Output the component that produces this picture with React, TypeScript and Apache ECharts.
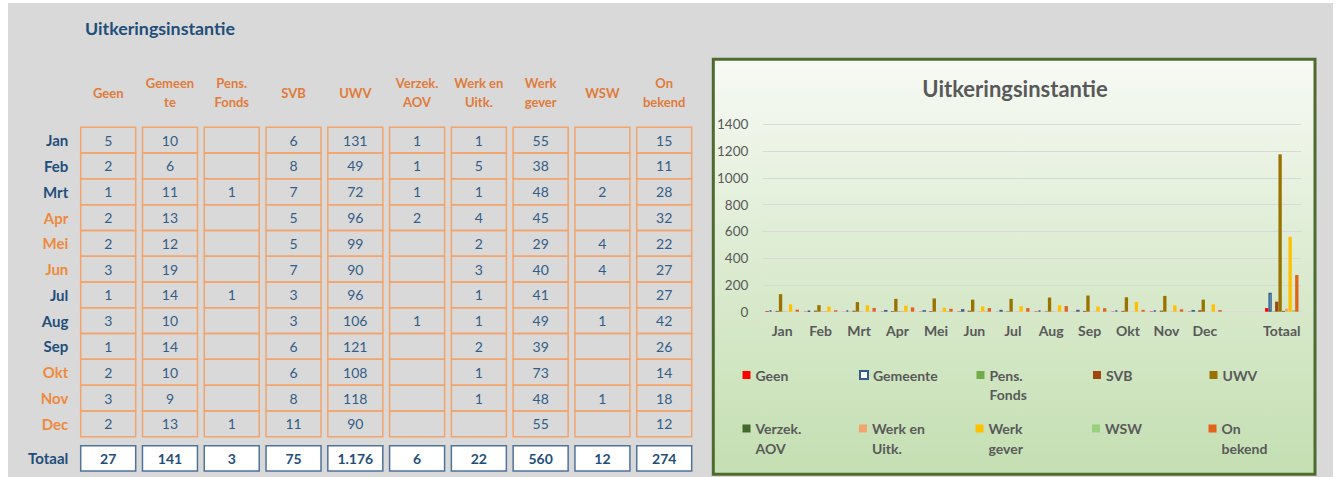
import React, { useEffect, useRef } from 'react';
import * as echarts from 'echarts';

const months = ['Jan', 'Feb', 'Mrt', 'Apr', 'Mei', 'Jun', 'Jul', 'Aug', 'Sep', 'Okt', 'Nov', 'Dec'];
const chartCategories = [...months, '', 'Totaal'];
const seriesNames = ['Geen', 'Gemeente', 'Pens. Fonds', 'SVB', 'UWV', 'Verzek. AOV', 'Werk en Uitk.', 'Werk gever', 'WSW', 'On bekend'];
const headerLabels = ['Geen', 'Gemeen\nte', 'Pens.\nFonds', 'SVB', 'UWV', 'Verzek.\nAOV', 'Werk en\nUitk.', 'Werk\ngever', 'WSW', 'On\nbekend'];
const legendLabels = ['Geen', 'Gemeente', 'Pens.\nFonds', 'SVB', 'UWV', 'Verzek.\nAOV', 'Werk en\nUitk.', 'Werk\ngever', 'WSW', 'On\nbekend'];

const geen = [5, 2, 1, 2, 2, 3, 1, 3, 1, 2, 3, 2];
const gemeente = [10, 6, 11, 13, 12, 19, 14, 10, 14, 10, 9, 13];
const pensFonds = [null, null, 1, null, null, null, 1, null, null, null, null, 1];
const svb = [6, 8, 7, 5, 5, 7, 3, 3, 6, 6, 8, 11];
const uwv = [131, 49, 72, 96, 99, 90, 96, 106, 121, 108, 118, 90];
const verzekAov = [1, 1, 1, 2, null, null, null, 1, null, null, null, null];
const werkEnUitk = [1, 5, 1, 4, 2, 3, 1, 1, 2, 1, 1, null];
const werkgever = [55, 38, 48, 45, 29, 40, 41, 49, 39, 73, 48, 55];
const wsw = [null, null, 2, null, 4, 4, null, 1, null, null, 1, null];
const onbekend = [15, 11, 28, 32, 22, 27, 27, 42, 26, 14, 18, 12];
const totals = [27, 141, 3, 75, 1176, 6, 22, 560, 12, 274];

const monthlyData: (number | null)[][] = [geen, gemeente, pensFonds, svb, uwv, verzekAov, werkEnUitk, werkgever, wsw, onbekend];

const seriesColors = ['#ff0000', '#ffffff', '#70ad47', '#9e480e', '#997300', '#43682b', '#f4a46c', '#ffc000', '#9bd07a', '#e0651a'];

const FONT = 'Lato, "Open Sans", sans-serif';
const BLUE = '#1f4e79';
const ORANGE = '#ee8a3c';

function fmtNl(v: number): string {
  const s = String(v);
  return s.replace(/\B(?=(\d{3})+(?!\d))/g, '.');
}

export default function App() {
  const ref = useRef<HTMLDivElement>(null);
  useEffect(() => {
    document.body.style.margin = '0';
    document.body.style.overflow = 'hidden';
    if (!ref.current) return;
    const chart = echarts.init(ref.current, undefined, { renderer: 'svg' });

    const cellData: number[][] = [];
    const cellLabels: string[] = [];
    for (let r = 0; r < months.length; r++) {
      for (let c = 0; c < monthlyData.length; c++) {
        cellData.push([c, r]);
        const v = monthlyData[c][r];
        cellLabels.push(v == null ? '' : String(v));
      }
    }
    const totalData: number[][] = totals.map((_, c) => [c, 0]);
    const totalLabels = totals.map((v) => fmtNl(v));

    const makeCellRenderer = (labels: string[], fill: string, stroke: string, textColor: string, bold: boolean) =>
      (params: any, api: any) => {
        const c = api.value(0);
        const r = api.value(1);
        const p = api.coord([c, r]);
        const sz = api.size([1, 1]);
        const bw = Math.abs(sz[0]);
        const bh = Math.abs(sz[1]);
        const w = bw * 0.89;
        return {
          type: 'group',
          children: [
            {
              type: 'rect',
              shape: { x: p[0] - w / 2, y: p[1] - bh / 2, width: w, height: bh },
              style: { fill, stroke, lineWidth: 1.5 },
            },
            {
              type: 'text',
              style: {
                text: labels[params.dataIndex],
                x: p[0],
                y: p[1],
                align: 'center',
                verticalAlign: 'middle',
                fill: textColor,
                fontSize: 14,
                fontFamily: FONT,
                fontWeight: bold ? 'bold' : 'normal',
              },
            },
          ],
        };
      };

    const legendText = {
      color: '#595959',
      fontWeight: 'bold',
      fontSize: 14,
      fontFamily: FONT,
      lineHeight: 19.5,
      width: 93.5,
    };
    const legendFormatter = (name: string) => {
      const idx = seriesNames.indexOf(name);
      const lbl = legendLabels[idx];
      return lbl.indexOf('\n') >= 0 ? ' \n' + lbl : ' \n' + lbl + '\n ';
    };

    const option: any = {
      animation: false,
      graphic: [
        { type: 'rect', z: -20, silent: true, shape: { x: 8, y: 3, width: 1325, height: 474 }, style: { fill: '#d9d9d9' } },
        {
          type: 'rect',
          z: -10,
          silent: true,
          shape: { x: 713.3, y: 59.3, width: 601.7, height: 415 },
          style: {
            fill: {
              type: 'linear', x: 0, y: 0, x2: 0, y2: 1,
              colorStops: [
                { offset: 0, color: '#f7faf5' },
                { offset: 0.5, color: '#dcebd0' },
                { offset: 1, color: '#c4dfb2' },
              ],
            },
            stroke: '#4d6b2e',
            lineWidth: 3,
          },
        },
        {
          type: 'text', z: 10, silent: true, x: 85, y: 27.7,
          style: { text: 'Uitkeringsinstantie', align: 'left', verticalAlign: 'middle', fill: BLUE, fontSize: 17.8, fontWeight: 'bold', fontFamily: FONT },
        },
        {
          type: 'text', z: 10, silent: true, x: 1015, y: 88.3,
          style: { text: 'Uitkeringsinstantie', align: 'center', verticalAlign: 'middle', fill: '#595959', fontSize: 22, fontWeight: 'bold', fontFamily: FONT },
        },
      ],
      grid: [
        { left: 77.3, width: 617.8, top: 127.3, height: 309.4 },
        { left: 77.3, width: 617.8, top: 445.7, height: 25.3 },
        { left: 763, right: 37, top: 124.3, bottom: 165.3 },
      ],
      xAxis: [
        {
          gridIndex: 0, type: 'category', data: headerLabels, position: 'top',
          axisLine: { show: false }, axisTick: { show: false }, splitLine: { show: false },
          axisLabel: { interval: 0, color: '#e07b39', fontWeight: 'bold', fontSize: 13, fontFamily: FONT, lineHeight: 18.4, verticalAlign: 'middle', margin: 34.7 },
        },
        { gridIndex: 1, type: 'category', data: seriesNames, show: false },
        {
          gridIndex: 2, type: 'category', data: chartCategories,
          axisLine: { lineStyle: { color: '#d9d9d9' } }, axisTick: { show: false },
          axisLabel: { interval: 0, color: '#595959', fontWeight: 'bold', fontSize: 14, fontFamily: FONT, margin: 12 },
        },
      ],
      yAxis: [
        {
          gridIndex: 0, type: 'category', data: months, inverse: true,
          axisLine: { show: false }, axisTick: { show: false }, splitLine: { show: false },
          axisLabel: {
            color: (_v: any, i: number) => (Math.floor(i / 3) % 2 === 0 ? BLUE : ORANGE),
            fontWeight: 'bold', fontSize: 15, fontFamily: FONT, margin: 9,
          },
        },
        {
          gridIndex: 1, type: 'category', data: ['Totaal'],
          axisLine: { show: false }, axisTick: { show: false }, splitLine: { show: false },
          axisLabel: { color: BLUE, fontWeight: 'bold', fontSize: 15, fontFamily: FONT, margin: 9 },
        },
        {
          gridIndex: 2, type: 'value', min: 0, max: 1400, interval: 200,
          axisLine: { show: false }, axisTick: { show: false },
          splitLine: { lineStyle: { color: '#d9d9d9', width: 1 } },
          axisLabel: { color: '#595959', fontSize: 13.5, fontFamily: FONT, margin: 14.7, formatter: (v: number) => String(v) },
        },
      ],
      legend: [
        {
          data: seriesNames.slice(0, 5), left: 742.5, top: 345.75, padding: 0,
          orient: 'horizontal', icon: 'rect', itemWidth: 8, itemHeight: 8, itemGap: 10,
          selectedMode: false, textStyle: legendText, formatter: legendFormatter,
        },
        {
          data: seriesNames.slice(5), left: 742.5, top: 399.25, padding: 0,
          orient: 'horizontal', icon: 'rect', itemWidth: 8, itemHeight: 8, itemGap: 10,
          selectedMode: false, textStyle: legendText, formatter: legendFormatter,
        },
      ],
      series: [
        {
          type: 'custom', name: 'table', xAxisIndex: 0, yAxisIndex: 0, silent: true,
          data: cellData, encode: { x: 0, y: 1 },
          renderItem: makeCellRenderer(cellLabels, 'none', '#f2a46c', '#335d87', false),
        },
        {
          type: 'custom', name: 'tableTotals', xAxisIndex: 1, yAxisIndex: 1, silent: true,
          data: totalData, encode: { x: 0, y: 1 },
          renderItem: makeCellRenderer(totalLabels, '#ffffff', '#4f7399', BLUE, true),
        },
        ...seriesNames.map((name, i) => ({
          type: 'bar',
          name,
          xAxisIndex: 2,
          yAxisIndex: 2,
          data: [...monthlyData[i], null, totals[i]],
          barGap: '0%',
          barCategoryGap: '13%',
          itemStyle: i === 1
            ? { color: '#ffffff', borderColor: '#2f5f8f', borderWidth: 1.5 }
            : { color: seriesColors[i] },
        })),
      ],
    };
    chart.setOption(option);
    return () => chart.dispose();
  }, []);
  return <div ref={ref} style={{ width: 1338, height: 477 }} />;
}
